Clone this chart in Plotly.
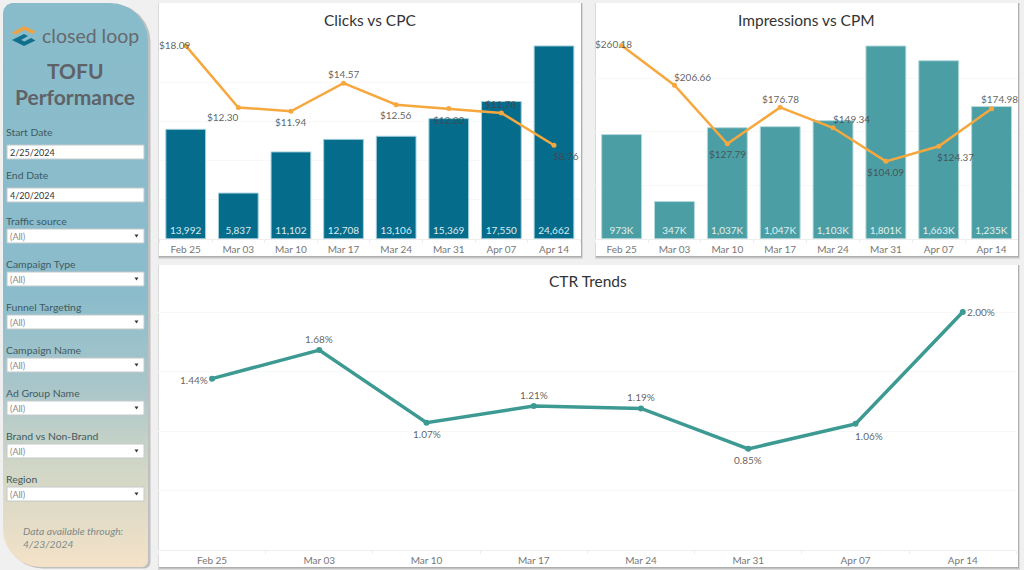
import numpy as np
import plotly.graph_objects as go

# weekly data
weeks = ['Feb 25', 'Mar 03', 'Mar 10', 'Mar 17', 'Mar 24', 'Mar 31', 'Apr 07', 'Apr 14']
clicks = [13992, 5837, 11102, 12708, 13106, 15369, 17550, 24662]
cpc = [18.09, 12.30, 11.94, 14.57, 12.56, 12.20, 11.78, 8.76]
impressions = [973, 347, 1037, 1047, 1103, 1801, 1663, 1235]
cpm = [260.18, 206.66, 127.79, 176.78, 149.34, 104.09, 124.37, 174.98]
ctr = [1.44, 1.68, 1.07, 1.21, 1.19, 0.85, 1.06, 2.00]

filters = ['Traffic source', 'Campaign Type', 'Funnel Targeting', 'Campaign Name',
           'Ad Group Name', 'Brand vs Non-Brand', 'Region']
filter_tops = [229, 272, 315, 358, 401, 444, 487]
dates = [('Start Date', '2/25/2024', 145), ('End Date', '4/20/2024', 188)]

# label nudges in px (dx, dy) so they sit where the dashboard put them
cpc_nudge = [(-11, -1), (-15, 10), (0, 10.5), (0, -9.5), (0, 10.5), (0, 11), (0, -9), (12, 10.5)]
cpm_nudge = [(-8, -1), (18, -8.5), (0, 10), (0, -8), (18, -9), (0, 10.5), (17, 11), (8, -9.5)]
ctr_nudge = [(-18, 1), (0, -11), (0, 11), (0, -11), (0, -11), (0, 11), (13.5, 12), (18, 0)]

W, H = 1024, 570
FONT = 'Lato'
BLUE = '#066c8c'
TEAL = '#4b9ea4'
ORANGE = '#f6a83f'
GREEN = '#3c9a93'
GRID = '#f8f8f8'
LABEL = 'rgba(70,70,70,0.85)'


def dom_x(a, b):
    return [a / W, b / W]


def dom_y(top, bottom):
    return [1 - bottom / H, 1 - top / H]


def rounded(x0, y0, x1, y1, tl, tr, br, bl):
    # outline of the side panel, every corner its own radius
    xs, ys = [], []
    corners = [(x0 + tl, y0 + tl, tl, 180), (x1 - tr, y0 + tr, tr, 270),
               (x1 - br, y1 - br, br, 0), (x0 + bl, y1 - bl, bl, 90)]
    for cx, cy, r, start in corners:
        t = np.radians(np.linspace(start, start + 90, 24))
        xs += list(cx + r * np.cos(t))
        ys += list(cy + r * np.sin(t))
    return xs + xs[:1], ys + ys[:1]


fig = go.Figure()

# side panel, drawn on the full page pixel axes
px, py = rounded(5, 4, 150.5, 568.5, 10, 38, 6, 38)
fig.add_trace(go.Scatter(x=px, y=py, xaxis='x', yaxis='y', mode='lines', fill='toself',
                         line=dict(width=0), fillcolor='rgba(120,120,120,0.4)', hoverinfo='skip'))
px, py = rounded(3, 3, 148, 567, 10, 38, 6, 38)
fig.add_trace(go.Scatter(x=px, y=py, xaxis='x', yaxis='y', mode='lines', fill='toself', line=dict(width=0),
                         fillgradient=dict(type='vertical', start=3, stop=567,
                                           colorscale=[[0, '#89bccb'], [0.52, '#8bbccb'], [0.68, '#a9c6ca'],
                                                       [0.82, '#d0d6c6'], [1, '#f4e2c8']]),
                         hoverinfo='skip'))

# Clicks vs CPC
fig.add_trace(go.Bar(x=weeks, y=clicks, xaxis='x2', yaxis='y2', marker=dict(color=BLUE, line=dict(color='#a3d0dc', width=1)),
                     text=[f'{v:,}' for v in clicks], textposition='inside', insidetextanchor='start', textangle=0,
                     constraintext='none', insidetextfont=dict(color='#dcecf1', size=10, family=FONT)))
fig.add_trace(go.Scatter(x=weeks, y=cpc, xaxis='x2', yaxis='y3', mode='lines+markers',
                         line=dict(color=ORANGE, width=2.5), marker=dict(color=ORANGE, size=5)))

# Impressions vs CPM
fig.add_trace(go.Bar(x=weeks, y=impressions, xaxis='x3', yaxis='y4', marker=dict(color=TEAL, line=dict(color='#b3dadc', width=1)),
                     text=[f'{v:,}K' for v in impressions], textposition='inside', insidetextanchor='start', textangle=0,
                     constraintext='none', insidetextfont=dict(color='#e0f0f0', size=10, family=FONT)))
fig.add_trace(go.Scatter(x=weeks, y=cpm, xaxis='x3', yaxis='y5', mode='lines+markers',
                         line=dict(color=ORANGE, width=2.5), marker=dict(color=ORANGE, size=5)))

# CTR Trends
fig.add_trace(go.Scatter(x=weeks, y=ctr, xaxis='x4', yaxis='y6', mode='lines+markers',
                         line=dict(color=GREEN, width=3.5), marker=dict(color=GREEN, size=6)))

x_common = dict(type='category', range=[-0.5, 7.5], tickson='boundaries', ticks='outside', ticklen=3, tickcolor='#eeeeee',
                showgrid=False, showline=True, linecolor='#eeeeee', linewidth=1, zeroline=False,
                tickfont=dict(family=FONT, size=10, color='#777777'), ticklabelstandoff=1)
y_common = dict(showticklabels=False, ticks='', zeroline=False, gridcolor=GRID, gridwidth=1, showline=False)

fig.update_layout(
    width=W, height=H, margin=dict(l=0, r=0, t=0, b=0), paper_bgcolor='#f0f0f0', plot_bgcolor='rgba(0,0,0,0)',
    showlegend=False, bargap=0.245, font=dict(family=FONT),
    xaxis=dict(domain=[0, 1], range=[0, W], visible=False),
    yaxis=dict(domain=[0, 1], range=[H, 0], visible=False),
    xaxis2=dict(domain=dom_x(159.4, 580.3), anchor='y2', **x_common),
    yaxis2=dict(domain=dom_y(43.3, 238.7), anchor='x2', range=[0, 25000], dtick=5000, **y_common),
    yaxis3=dict(domain=dom_y(43.3, 238.7), anchor='x2', overlaying='y2', range=[0, 18.31], showgrid=False,
                showticklabels=False, zeroline=False),
    xaxis3=dict(domain=dom_x(595.2, 1018), anchor='y4', **x_common),
    yaxis4=dict(domain=dom_y(43.3, 238.7), anchor='x3', range=[0, 1826], dtick=500, **y_common),
    yaxis5=dict(domain=dom_y(43.3, 238.7), anchor='x3', overlaying='y4', range=[0, 263], showgrid=False,
                showticklabels=False, zeroline=False),
    xaxis4=dict(domain=dom_x(158.4, 1016.4), anchor='y6', **x_common),
    yaxis6=dict(domain=dom_y(305, 550), anchor='x4', range=[0, 2.0588], tickvals=[0.5, 1, 1.5, 2], **y_common),
)

shapes = []
# cards with their soft shadow
for x0, y0, x1, y1 in [(159, 3, 581, 256), (596, 3, 1018, 256), (159, 265, 1018, 567)]:
    shapes.append(dict(type='rect', x0=x0 - 1, y0=y0, x1=x1 + 2, y1=y1 + 3, fillcolor='rgba(150,150,150,0.25)', line_width=0, layer='below'))
    shapes.append(dict(type='rect', x0=x0, y0=y0, x1=x1 + 1, y1=y1 + 1.5, fillcolor='rgba(130,130,130,0.5)', line_width=0, layer='below'))
    shapes.append(dict(type='rect', x0=x0, y0=y0, x1=x1, y1=y1, fillcolor='white', line_width=0, layer='below'))

# logo mark
shapes.append(dict(type='path', path='M12,32.5 L24,26 L36,31.5 L32.5,34 L24,30 L15.5,35 Z', fillcolor='#eaa54a', line_width=0))
shapes.append(dict(type='path', path='M12,40 L24,34 L28,36 L21,40 L24.5,41.5 L31,38 L35.5,40.5 L24,46 Z', fillcolor='#0f6f8c', line_width=0))

for top in [d[2] for d in dates] + filter_tops:
    shapes.append(dict(type='rect', x0=7, y0=top, x1=144, y1=top + 14, fillcolor='white', line=dict(color='#c4c9cb', width=1)))
for top in filter_tops:
    shapes.append(dict(type='path', path=f'M134.5,{top + 5.5} L138.5,{top + 5.5} L136.5,{top + 8.5} Z', fillcolor='#333333', line_width=0))
fig.update_layout(shapes=[dict(s, xref='x', yref='y') for s in shapes])


def page_text(x, y, text, size, color, anchor='left', **font_kw):
    fig.add_annotation(x=x, y=y, xref='x', yref='y', text=text, showarrow=False, xanchor=anchor, yanchor='middle',
                       font=dict(family=FONT, size=size, color=color, **font_kw))


def value_labels(values, texts, nudges, xref, yref):
    for w, v, t, (dx, dy) in zip(weeks, values, texts, nudges):
        fig.add_annotation(x=w, y=v, xref=xref, yref=yref, text=t, showarrow=False, xshift=dx, yshift=-dy,
                           xanchor='center', yanchor='middle', font=dict(family=FONT, size=10, color=LABEL))


value_labels(cpc, [f'${v:.2f}' for v in cpc], cpc_nudge, 'x2', 'y3')
value_labels(cpm, [f'${v:.2f}' for v in cpm], cpm_nudge, 'x3', 'y5')
value_labels(ctr, [f'{v:.2f}%' for v in ctr], ctr_nudge, 'x4', 'y6')

page_text(370, 20, 'Clicks vs CPC', 15.5, '#333333', 'center')
page_text(806.5, 20, 'Impressions vs CPM', 15.5, '#333333', 'center')
page_text(588, 281, 'CTR Trends', 15.5, '#333333', 'center')

page_text(40, 35, 'closed loop', 19.5, '#66696d')
page_text(75, 70, '<b>TOFU</b>', 21, '#5f6367', 'center')
page_text(75, 96, '<b>Performance</b>', 21, '#5f6367', 'center')

for name, value, top in dates:
    page_text(4, top - 13, name, 10.4, '#3f5a62')
    page_text(8, top + 7, value, 9, '#333333')
for name, top in zip(filters, filter_tops):
    page_text(4, top - 8, name, 10.4, '#3f5a62')
    page_text(8, top + 7, '(All)', 9, '#8a8a8a')

page_text(21, 531, 'Data available through:', 10.3, '#7d8a88', style='italic')
page_text(21, 544, '4/23/2024', 10.3, '#7d8a88', style='italic')

fig.write_html('out.html', config=dict(displayModeBar=False),
               post_script="document.body.style.margin='0';document.body.style.overflow='hidden';")
